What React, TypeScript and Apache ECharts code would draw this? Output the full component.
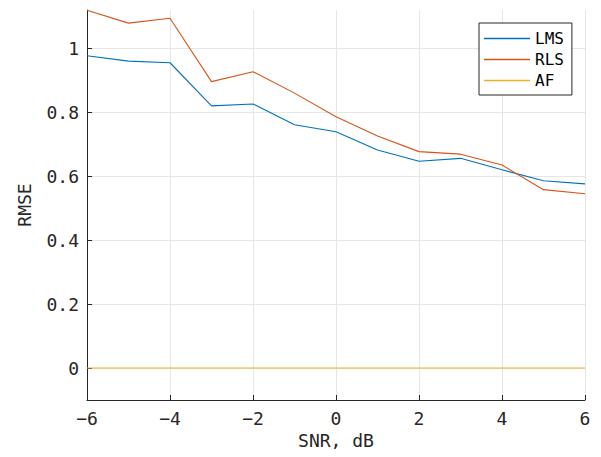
import React, { useEffect, useRef } from "react";
import * as echarts from "echarts";

// SNR sweep in dB
const snr = [-6, -5, -4, -3, -2, -1, 0, 1, 2, 3, 4, 5, 6];

// RMSE per estimator
const lms = [0.977, 0.96, 0.955, 0.82, 0.826, 0.761, 0.739, 0.682, 0.647, 0.656, 0.62, 0.586, 0.576];
const rls = [1.119, 1.079, 1.094, 0.896, 0.927, 0.86, 0.786, 0.726, 0.677, 0.669, 0.635, 0.558, 0.545];
const af = [0, 0, 0, 0, 0, 0, 0, 0, 0, 0, 0, 0, 0];

const seriesNames = ["LMS", "RLS", "AF"];
const seriesColors = ["#0072BD", "#D95319", "#EDB120"];

const FONT = "DejaVu Sans Mono";
const INK = "#262626";
const GRID = "#e6e6e6";

const pairs = (ys: number[]) => snr.map((x, i) => [x, ys[i]]);

export default function App() {
  const ref = useRef<HTMLDivElement>(null);

  useEffect(() => {
    if (!ref.current) return;
    const chart = echarts.init(ref.current, null, { renderer: "svg" });
    const data = [lms, rls, af];
    chart.setOption({
      animation: false,
      backgroundColor: "#ffffff",
      grid: { left: 87, right: 16, top: 10, bottom: 57, containLabel: false },
      legend: {
        orient: "vertical",
        left: 479,
        top: 23,
        padding: [6, 8, 5, 5],
        itemGap: 2,
        itemWidth: 46,
        itemHeight: 1.3,
        icon: "rect",
        backgroundColor: "#ffffff",
        borderColor: INK,
        borderWidth: 1,
        borderRadius: 0,
        textStyle: { fontFamily: FONT, fontSize: 16, color: "#000000", lineHeight: 19 },
        data: seriesNames,
      },
      xAxis: {
        type: "value",
        min: -6,
        max: 6,
        interval: 2,
        name: "SNR, dB",
        nameLocation: "middle",
        nameGap: 30,
        nameTextStyle: { fontFamily: FONT, fontSize: 18, color: INK },
        axisLine: { show: true, onZero: false, lineStyle: { color: INK, width: 1 } },
        axisTick: { show: true, inside: true, length: 5, lineStyle: { color: INK } },
        axisLabel: {
          fontFamily: FONT,
          fontSize: 18,
          color: INK,
          margin: 9,
          formatter: (v: number) => String(v).replace("-", "\u2212"),
        },
        splitLine: { show: true, lineStyle: { color: GRID, width: 1 } },
      },
      yAxis: {
        type: "value",
        min: -0.1,
        max: 1.12,
        splitNumber: 6,
        name: "RMSE",
        nameLocation: "middle",
        nameGap: 54,
        nameTextStyle: { fontFamily: FONT, fontSize: 18, color: INK },
        axisLine: { show: true, onZero: false, lineStyle: { color: INK, width: 1 } },
        axisTick: { show: true, inside: true, length: 5, lineStyle: { color: INK } },
        axisLabel: {
          fontFamily: FONT,
          fontSize: 18,
          color: INK,
          margin: 8,
          showMinLabel: false,
          showMaxLabel: false,
        },
        splitLine: {
          show: true,
          showMinLine: false,
          showMaxLine: false,
          lineStyle: { color: GRID, width: 1 },
        },
      },
      series: seriesNames.map((name, i) => ({
        name,
        type: "line",
        data: pairs(data[i]),
        symbol: "none",
        showSymbol: false,
        color: seriesColors[i],
        lineStyle: { color: seriesColors[i], width: 1.1 },
        clip: true,
      })),
    });
    return () => chart.dispose();
  }, []);

  return (
    <div
      ref={ref}
      style={{ position: "absolute", left: 0, top: 0, width: 601, height: 457 }}
    />
  );
}
